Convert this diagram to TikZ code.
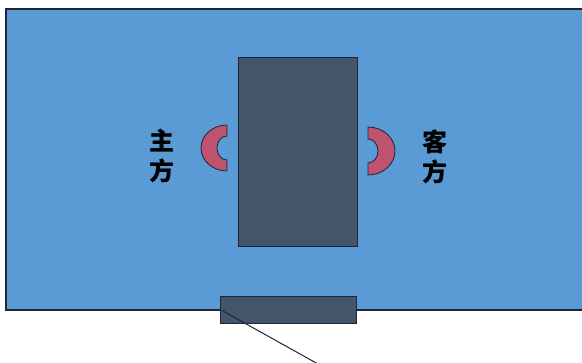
\documentclass[tikz,border=0pt]{standalone}
\usepackage{fontspec}
\newfontfamily\cjk{Noto Sans CJK SC}
\definecolor{bgblue}{HTML}{5B9BD5}
\definecolor{slate}{HTML}{44546A}
\definecolor{rose}{HTML}{BE5370}
\definecolor{edge}{HTML}{1B2638}
\tikzset{
  panel/.style={fill=bgblue, draw=edge, line width=1.5pt},
  block/.style={fill=slate, draw=edge, line width=0.6pt, inner sep=0pt, outer sep=0pt},
  cup/.style={fill=rose, draw=edge, line width=0.8pt},
  label/.style={font=\cjk\bfseries\fontsize{25}{30}\selectfont, text=black, align=center, inner sep=0pt},
  lead/.style={draw=edge, line width=1pt}
}
\begin{document}
\begin{tikzpicture}[x=1pt,y=-1pt]
\useasboundingbox (0,0) rectangle (582,363);
% main panel
\draw[panel] (590,9) -- (6,9) -- (6,310) -- (590,310);
% central table
\node[block, minimum width=119pt, minimum height=189pt] (table) at (297.5,151.5) {};
% bottom block
\node[block, minimum width=136pt, minimum height=27pt] (door) at (288.5,309.5) {};
% left cup
\coordinate (lc) at (227,148);
\draw[cup] (lc) ++(0,-23) arc[start angle=-90,end angle=-270,x radius=26,y radius=23]
  -- ++(0,-11) arc[start angle=90,end angle=270,x radius=10,y radius=12] -- cycle;
% right cup
\coordinate (rc) at (368,151);
\draw[cup] (rc) ++(0,-24) arc[start angle=-90,end angle=90,x radius=27,y radius=24]
  -- ++(0,-12) arc[start angle=90,end angle=-90,x radius=10,y radius=12] -- cycle;
% labels
\node[label] (host) at (162,156) {主\\方};
\node[label] (guest) at (435,157) {客\\方};
% lead line
\coordinate (leadstart) at ([shift={(1.5,1)}]door.west);
\coordinate (leadend) at (318,364);
\draw[lead] (leadstart) -- (leadend);
\end{tikzpicture}
\end{document}
